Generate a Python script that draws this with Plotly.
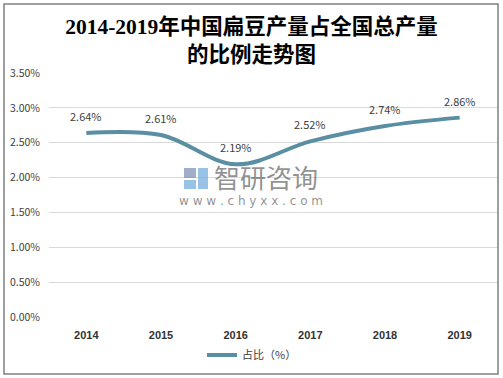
import plotly.graph_objects as go

years = ["2014", "2015", "2016", "2017", "2018", "2019"]
share = [2.64, 2.61, 2.19, 2.52, 2.74, 2.86]
labels = ["2.64%", "2.61%", "2.19%", "2.52%", "2.74%", "2.86%"]
y_ticks = [0, 0.5, 1.0, 1.5, 2.0, 2.5, 3.0, 3.5]
y_tick_text = ["0.00%", "0.50%", "1.00%", "1.50%", "2.00%", "2.50%", "3.00%", "3.50%"]
series_name = "占比（%）"
title_text = "2014-2019年中国扁豆产量占全国总产量<br>的比例走势图"

W, H = 503, 378
L, R, T, B = 49, 6, 73, 61
pw, ph = W - L - R, H - T - B

def px(x):
    return (x - L) / pw

def py(y):
    return (H - B - y) / ph

line_color = "#5A8EA2"
font_family = "Noto Sans CJK SC, Liberation Sans, sans-serif"

fig = go.Figure()
fig.add_trace(go.Scatter(
    x=years, y=share, mode="lines", name=series_name,
    line=dict(color=line_color, width=4, shape="spline", smoothing=1.0),
    hoverinfo="skip",
))

annotations = []
for i, (v, t) in enumerate(zip(share, labels)):
    annotations.append(dict(
        x=i, y=v, xref="x", yref="y", text=t, showarrow=False,
        yshift=17, font=dict(size=11, color="#404040", family=font_family),
    ))

# watermark
annotations.append(dict(
    x=px(266), y=py(176), xref="paper", yref="paper", text="智研咨询",
    showarrow=False, font=dict(size=26, color="rgba(110,110,110,0.75)", family=font_family),
))
annotations.append(dict(
    x=px(251), y=py(201), xref="paper", yref="paper", text="w w w . c h y x x . c o m",
    showarrow=False, font=dict(size=12, color="rgba(110,110,110,0.75)", family="DejaVu Sans, sans-serif"),
))

shapes = [
    dict(type="rect", xref="paper", yref="paper",
         x0=px(4), x1=px(498), y0=py(374), y1=py(4),
         line=dict(color="#808080", width=1.5), fillcolor="rgba(0,0,0,0)", layer="below"),
    # watermark logo
    dict(type="rect", xref="paper", yref="paper",
         x0=px(184), x1=px(196), y0=py(178), y1=py(168),
         line=dict(width=0), fillcolor="rgba(120,140,180,0.7)"),
    dict(type="rect", xref="paper", yref="paper",
         x0=px(184), x1=px(196), y0=py(189), y1=py(180),
         line=dict(width=0), fillcolor="rgba(110,170,220,0.7)"),
    dict(type="rect", xref="paper", yref="paper",
         x0=px(198), x1=px(208), y0=py(189), y1=py(168),
         line=dict(width=0), fillcolor="rgba(110,170,220,0.7)"),
]

fig.update_layout(
    width=W, height=H,
    margin=dict(l=L, r=R, t=T, b=B),
    paper_bgcolor="white", plot_bgcolor="white",
    title=dict(
        text=title_text, x=0.5, xanchor="center", y=(H - 34) / H, yanchor="middle",
        font=dict(size=21.5, color="#000000", family="Liberation Serif, Noto Sans CJK SC, serif", weight="bold"),
    ),
    xaxis=dict(
        type="category", range=[-0.5, len(years) - 0.5], autorange=False,
        showgrid=False, zeroline=False, showline=False, ticks="",
        tickfont=dict(size=11, color="#333333", family="Liberation Sans, sans-serif", weight="bold"),
        ticklabelstandoff=10,
    ),
    yaxis=dict(
        range=[0, 3.5], autorange=False, tickvals=y_ticks, ticktext=y_tick_text,
        showgrid=True, gridcolor="#D9D9D9", gridwidth=1, zeroline=False, showline=False,
        tickfont=dict(size=10.5, color="#404040", family=font_family),
        ticklabelstandoff=8,
    ),
    showlegend=True,
    legend=dict(
        orientation="h", x=px(252), xanchor="center", y=py(355), yanchor="middle",
        font=dict(size=11, color="#404040", family=font_family),
        bgcolor="rgba(0,0,0,0)",
    ),
    annotations=annotations,
    shapes=shapes,
)

fig.write_html("out.html", config={"displayModeBar": False},
               post_script="document.body.style.margin='0';")
